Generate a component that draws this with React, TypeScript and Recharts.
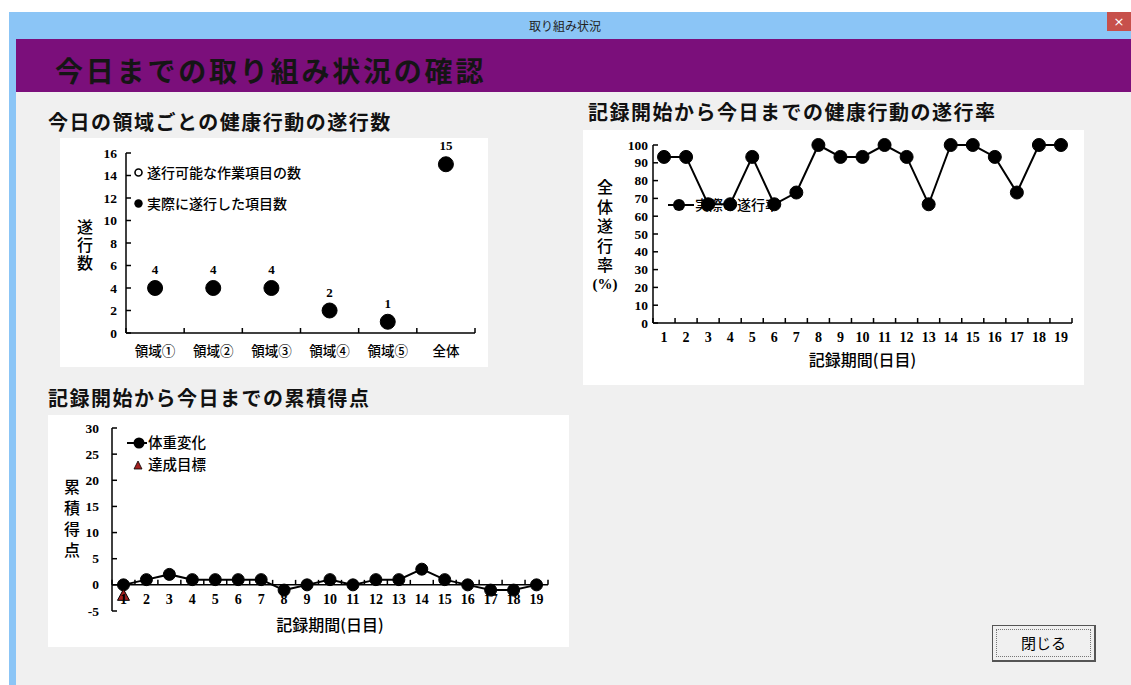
import React from 'react';
import {
  LineChart,
  ComposedChart,
  Line,
  Scatter,
  XAxis,
  YAxis,
  ReferenceLine,
  LabelList
} from 'recharts';

const JP = '"Noto Sans CJK JP", "Noto Sans", sans-serif';
const SERIF = '"Liberation Serif", "DejaVu Serif", serif';

// 今日の領域ごとの健康行動の遂行数
const domainNames = ['領域①', '領域②', '領域③', '領域④', '領域⑤', '全体'];
const domainCounts = [4, 4, 4, 2, 1, 15];
const countTicks = [0, 2, 4, 6, 8, 10, 12, 14, 16];

// 記録開始から今日までの遂行率 (%)
const days = [1, 2, 3, 4, 5, 6, 7, 8, 9, 10, 11, 12, 13, 14, 15, 16, 17, 18, 19];
const rateValues = [93.3, 93.3, 66.7, 66.7, 93.3, 66.7, 73.3, 100, 93.3, 93.3, 100, 93.3, 66.7, 100, 100, 93.3, 73.3, 100, 100];
const rateTicks = [0, 10, 20, 30, 40, 50, 60, 70, 80, 90, 100];

// 累積得点
const scoreValues = [0, 1, 2, 1, 1, 1, 1, -1, 0, 1, 0, 1, 1, 3, 1, 0, -1, -1, 0];
const goalDays = [1];
const goalScores = [-2];
const scoreTicks = [-5, 0, 5, 10, 15, 20, 25, 30];

const countData = domainNames.map((name, i) => ({ idx: i + 1, name, count: domainCounts[i] }));
const rateData = days.map((day, i) => ({ day, rate: rateValues[i] }));
const scoreData = days.map((day, i) => ({ day, score: scoreValues[i] }));
const goalData = goalDays.map((day, i) => ({ day, score: goalScores[i] }));

// chart boxes
const C1 = { w: 428, h: 229, top: 15, right: 13, yw: 66, xh: 34 };
const C2 = { w: 501, h: 255, top: 15, right: 12, yw: 70, xh: 62 };
const C3 = { w: 521, h: 232, top: 13, right: 21, yw: 64, xh: 36 };
const SCORE_MIN = -5;
const SCORE_MAX = 30;

const bandOf = (c: typeof C1, n: number) => (c.w - c.right - c.yw) / n;
// distance from the plot bottom up to the zero line of the score chart
const zeroLift = ((C3.h - C3.top - C3.xh) * (0 - SCORE_MIN)) / (SCORE_MAX - SCORE_MIN);

// tick labels plus inside tick marks between categories
const XTick = (p: any) => {
  const { x, y, payload, index, band, lift = 0, labelDy, labels, font, size, weight } = p;
  const axisY = y - lift;
  const text = labels ? labels[payload.value - 1] : String(payload.value);
  return (
    <g>
      {index === 0 && (
        <line x1={x - band / 2} x2={x - band / 2} y1={axisY} y2={axisY - 5} stroke="#000" strokeWidth={1.5} />
      )}
      <line x1={x + band / 2} x2={x + band / 2} y1={axisY} y2={axisY - 5} stroke="#000" strokeWidth={1.5} />
      <text
        x={x}
        y={axisY + labelDy}
        textAnchor="middle"
        dominantBaseline="central"
        fontFamily={font}
        fontSize={size}
        fontWeight={weight}
        fill="#000"
      >
        {text}
      </text>
    </g>
  );
};

const YTick = (p: any) => {
  const { x, y, payload, gap } = p;
  return (
    <g>
      <line x1={x} x2={x + 5} y1={y} y2={y} stroke="#000" strokeWidth={1.5} />
      <text
        x={x - gap}
        y={y}
        textAnchor="end"
        dominantBaseline="central"
        fontFamily={SERIF}
        fontWeight="bold"
        fontSize={13.5}
        fill="#000"
      >
        {payload.value}
      </text>
    </g>
  );
};

const Triangle = (p: any) => {
  const { cx, cy } = p;
  if (cx == null || cy == null) return <g />;
  return (
    <polygon
      points={`${cx},${cy - 6} ${cx + 6},${cy + 5} ${cx - 6},${cy + 5}`}
      fill="#A32020"
      stroke="#000"
      strokeWidth={1}
    />
  );
};

// axis titles written top to bottom
const VerticalLabel = ({ text, left, top, spacing }: { text: string; left: number; top: number; spacing: number }) => (
  <div
    style={{
      position: 'absolute',
      left: left - 8,
      top,
      writingMode: 'vertical-rl',
      textOrientation: 'upright',
      fontFamily: JP,
      fontSize: 16,
      fontWeight: 500,
      lineHeight: 1,
      letterSpacing: spacing,
      color: '#000',
      whiteSpace: 'nowrap'
    }}
  >
    {text}
  </div>
);

const axisLine = { stroke: '#000', strokeWidth: 1.5 };

const sectionTitle: React.CSSProperties = {
  position: 'absolute',
  fontFamily: JP,
  fontWeight: 'bold',
  fontSize: 20,
  letterSpacing: 1.5,
  lineHeight: '28px',
  color: '#111',
  whiteSpace: 'nowrap'
};

const panel: React.CSSProperties = { position: 'absolute', background: '#fff' };

export default function App() {
  const band1 = bandOf(C1, domainNames.length);
  const band2 = bandOf(C2, days.length);
  const band3 = bandOf(C3, days.length);

  return (
    <div style={{ position: 'absolute', left: 0, top: 0, width: 1131, height: 685, background: '#fff', overflow: 'hidden', fontFamily: JP }}>
      {/* window frame */}
      <div style={{ position: 'absolute', left: 9, top: 12, width: 1122, height: 673, background: '#8BC5F6' }} />
      <div style={{ position: 'absolute', left: 16, top: 39, width: 1115, height: 646, background: '#F0F0F0' }} />
      <div style={{ position: 'absolute', left: 465, top: 12, width: 200, lineHeight: '27px', textAlign: 'center', fontSize: 12, color: '#222' }}>取り組み状況</div>
      <div style={{ position: 'absolute', left: 1107, top: 12, width: 24, height: 19, background: '#C7504B', color: '#fff', fontSize: 13, lineHeight: '19px', textAlign: 'center', fontFamily: '"DejaVu Sans", sans-serif' }}>×</div>

      {/* header band */}
      <div style={{ position: 'absolute', left: 16, top: 39, width: 1115, height: 53, background: '#7B0F7B' }} />
      <div style={{ position: 'absolute', left: 55, top: 50, fontSize: 28, fontWeight: 'bold', letterSpacing: 2.8, lineHeight: '40px', color: '#151515', whiteSpace: 'nowrap' }}>
        今日までの取り組み状況の確認
      </div>

      {/* 領域ごとの遂行数 */}
      <div style={{ ...sectionTitle, left: 48, top: 108 }}>今日の領域ごとの健康行動の遂行数</div>
      <div style={{ ...panel, left: 60, top: 138, width: C1.w, height: C1.h }}>
        <VerticalLabel text="遂行数" left={25} top={81} spacing={2} />
        <div style={{ position: 'absolute', left: 74, top: 25, fontSize: 14, fontWeight: 500, lineHeight: '18px', whiteSpace: 'nowrap' }}>
          <svg width="9" height="9" style={{ verticalAlign: 'middle', marginRight: 4, marginTop: -3 }}>
            <circle cx="4.5" cy="4.5" r="3.5" fill="#fff" stroke="#000" strokeWidth="1.6" />
          </svg>
          遂行可能な作業項目の数
        </div>
        <div style={{ position: 'absolute', left: 74, top: 56, fontSize: 14, fontWeight: 500, lineHeight: '18px', whiteSpace: 'nowrap' }}>
          <svg width="9" height="9" style={{ verticalAlign: 'middle', marginRight: 4, marginTop: -3 }}>
            <circle cx="4.5" cy="4.5" r="4.2" fill="#000" />
          </svg>
          実際に遂行した項目数
        </div>
        <LineChart width={C1.w} height={C1.h} data={countData} margin={{ top: C1.top, right: C1.right, left: 0, bottom: 0 }}>
          <XAxis
            dataKey="idx"
            type="number"
            domain={[0.5, domainNames.length + 0.5]}
            ticks={countData.map((d) => d.idx)}
            interval={0}
            height={C1.xh}
            tickSize={0}
            tickMargin={0}
            tickLine={false}
            axisLine={axisLine}
            tick={(p: any) => (
              <XTick {...p} band={band1} labelDy={17} labels={domainNames} font={JP} size={13.5} weight={500} />
            )}
          />
          <YAxis
            type="number"
            domain={[0, 16]}
            ticks={countTicks}
            interval={0}
            width={C1.yw}
            tickSize={0}
            tickMargin={0}
            tickLine={false}
            axisLine={axisLine}
            tick={(p: any) => <YTick {...p} gap={9} />}
          />
          <Line
            dataKey="count"
            stroke="none"
            dot={{ r: 7.5, fill: '#000', stroke: '#000', strokeWidth: 1 }}
            isAnimationActive={false}
          >
            <LabelList dataKey="count" position="top" offset={14} fill="#000" fontFamily={SERIF} fontWeight="bold" fontSize={13} />
          </Line>
        </LineChart>
      </div>

      {/* 遂行率 */}
      <div style={{ ...sectionTitle, left: 588, top: 98 }}>記録開始から今日までの健康行動の遂行率</div>
      <div style={{ ...panel, left: 583, top: 130, width: C2.w, height: C2.h }}>
        <VerticalLabel text="全体遂行率" left={22} top={49} spacing={3.5} />
        <div style={{ position: 'absolute', left: 2, top: 145, width: 40, textAlign: 'center', fontFamily: SERIF, fontWeight: 'bold', fontSize: 15, lineHeight: '18px' }}>(%)</div>
        <div style={{ position: 'absolute', left: 85, top: 65, fontSize: 14, fontWeight: 500, lineHeight: '18px', whiteSpace: 'nowrap' }}>
          <svg width="26" height="14" style={{ verticalAlign: 'middle', marginRight: 1, marginTop: -3 }}>
            <line x1="0" x2="26" y1="7" y2="7" stroke="#000" strokeWidth="2" />
            <circle cx="11" cy="7" r="6" fill="#000" />
          </svg>
          実際の遂行率
        </div>
        <LineChart width={C2.w} height={C2.h} data={rateData} margin={{ top: C2.top, right: C2.right, left: 0, bottom: 0 }}>
          <XAxis
            dataKey="day"
            type="number"
            domain={[0.5, days.length + 0.5]}
            ticks={days}
            interval={0}
            height={C2.xh}
            tickSize={0}
            tickMargin={0}
            tickLine={false}
            axisLine={axisLine}
            tick={(p: any) => <XTick {...p} band={band2} labelDy={14} font={SERIF} size={14} weight="bold" />}
            label={{ value: '記録期間(日目)', position: 'insideBottom', offset: 19, fill: '#000', fontFamily: JP, fontSize: 16, fontWeight: 500 }}
          />
          <YAxis
            type="number"
            domain={[0, 100]}
            ticks={rateTicks}
            interval={0}
            width={C2.yw}
            tickSize={0}
            tickMargin={0}
            tickLine={false}
            axisLine={axisLine}
            tick={(p: any) => <YTick {...p} gap={5} />}
          />
          <Line
            dataKey="rate"
            stroke="#000"
            strokeWidth={2}
            dot={{ r: 6.5, fill: '#000', stroke: '#000', strokeWidth: 1 }}
            isAnimationActive={false}
          />
        </LineChart>
      </div>

      {/* 累積得点 */}
      <div style={{ ...sectionTitle, left: 48, top: 384 }}>記録開始から今日までの累積得点</div>
      <div style={{ ...panel, left: 48, top: 415, width: C3.w, height: C3.h }}>
        <VerticalLabel text="累積得点" left={24} top={64} spacing={5} />
        <div style={{ position: 'absolute', left: 79, top: 18, fontSize: 14.5, fontWeight: 500, lineHeight: '18px', whiteSpace: 'nowrap' }}>
          <svg width="20" height="14" style={{ verticalAlign: 'middle', marginRight: 1, marginTop: -3 }}>
            <line x1="0" x2="20" y1="7" y2="7" stroke="#000" strokeWidth="2" />
            <circle cx="12" cy="7" r="5.5" fill="#000" />
          </svg>
          体重変化
        </div>
        <div style={{ position: 'absolute', left: 79, top: 40, fontSize: 14.5, fontWeight: 500, lineHeight: '18px', whiteSpace: 'nowrap' }}>
          <svg width="20" height="14" style={{ verticalAlign: 'middle', marginRight: 1, marginTop: -3 }}>
            <polygon points="11,3 15,11 7,11" fill="#A32020" stroke="#000" strokeWidth="0.8" />
          </svg>
          達成目標
        </div>
        <ComposedChart width={C3.w} height={C3.h} data={scoreData} margin={{ top: C3.top, right: C3.right, left: 0, bottom: 0 }}>
          <XAxis
            dataKey="day"
            type="number"
            domain={[0.5, days.length + 0.5]}
            ticks={days}
            interval={0}
            height={C3.xh}
            tickSize={0}
            tickMargin={0}
            tickLine={false}
            axisLine={false}
            tick={(p: any) => <XTick {...p} band={band3} lift={zeroLift} labelDy={15} font={SERIF} size={14} weight="bold" />}
            label={{ value: '記録期間(日目)', position: 'insideBottom', offset: 16, fill: '#000', fontFamily: JP, fontSize: 16, fontWeight: 500 }}
          />
          <YAxis
            type="number"
            domain={[SCORE_MIN, SCORE_MAX]}
            ticks={scoreTicks}
            interval={0}
            width={C3.yw}
            tickSize={0}
            tickMargin={0}
            tickLine={false}
            axisLine={axisLine}
            tick={(p: any) => <YTick {...p} gap={13} />}
          />
          <ReferenceLine y={0} stroke="#000" strokeWidth={1.5} />
          <Line
            dataKey="score"
            stroke="#000"
            strokeWidth={2}
            dot={{ r: 6, fill: '#000', stroke: '#000', strokeWidth: 1 }}
            isAnimationActive={false}
          />
          <Scatter data={goalData} dataKey="score" shape={Triangle} isAnimationActive={false} />
        </ComposedChart>
      </div>

      {/* 閉じる button */}
      <div style={{ position: 'absolute', left: 992, top: 625, width: 101, height: 34, border: '1px solid #555', borderRightWidth: 2, borderBottomWidth: 2, background: '#F0F0F0' }}>
        <div style={{ position: 'absolute', left: 3, top: 3, right: 3, bottom: 3, border: '1px dotted #777', textAlign: 'center', lineHeight: '26px', fontSize: 15, color: '#000' }}>閉じる</div>
      </div>
    </div>
  );
}
